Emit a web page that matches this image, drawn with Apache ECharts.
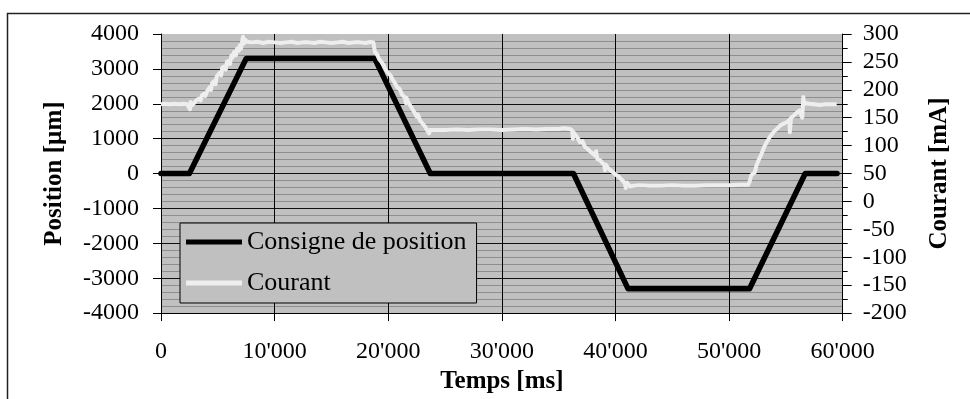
<!DOCTYPE html>
<html>
<head>
<meta charset="utf-8">
<script src="https://cdn.jsdelivr.net/npm/echarts@6/dist/echarts.min.js"></script>
<style>
  html, body { margin: 0; padding: 0; background: #ffffff; }
  #chart { width: 970px; height: 399px; }
</style>
</head>
<body>
<div id="chart"></div>
<script>
// Position set-point [µm] versus time [ms]
const positionTime = [0, 2500, 7500, 18800, 23700, 36300, 41100, 51800, 56700, 59500];
const positionValues = [0, 0, 3300, 3300, 0, 0, -3300, -3300, 0, 0];

// Measured motor current [mA] versus time [ms]
const currentTime = [
  0, 400, 800, 1200, 1600, 2000, 2300, 2450, 2550, 2600, 2700,
  2900, 3100, 3300, 3430, 3500, 3600, 3800, 3900, 4100, 4310, 4400, 4500, 4700, 4800, 4900, 5050,
  5190, 5300, 5400, 5600, 5700, 5800, 6000, 6070, 6200, 6300, 6450, 6600, 6700, 6850, 6950, 7050,
  7150, 7220, 7300, 7400, 7570,
  8000, 8500, 9000, 9500, 10000, 10500, 11000, 11500, 12000, 12500, 13000, 13500, 14000, 14500,
  15000, 15500, 16000, 16500, 17000, 17500, 18000, 18500, 18690,
  18830, 19000, 19200, 19400, 19600, 19710, 19850, 20000, 20200, 20400, 20590, 20700, 20800, 21000,
  21200, 21470, 21550, 21600, 21800, 22000, 22200, 22350, 22500, 22600, 22800, 23000, 23240, 23400,
  23600, 23680,
  24000, 25000, 26000, 27000, 28000, 29000, 30000, 31000, 32000, 33000, 34000, 35000, 35500, 36000,
  36200, 36250, 36300, 36600, 36880, 37100, 37300, 37500, 37760, 38000, 38200, 38300, 38400, 38640,
  38800, 39000, 39080, 39150, 39300, 39520, 39800, 40000, 40200, 40400, 40600, 40840, 40900, 41000, 41280,
  41600, 42160, 43000, 44000, 45000, 46000, 47000, 48000, 49000, 50000, 51000, 51500, 51690,
  51800, 51950, 52260, 52400, 52600, 52830, 53100, 53360, 53600, 53980, 54200, 54500, 54860, 55100,
  55300, 55350, 55450, 55700, 55900, 56180, 56300, 56440, 56500, 56530, 56620, 56800, 57060, 57500,
  57940, 58500, 59000, 59470
];
const currentValues = [
  174, 175, 174, 175, 174, 175, 174, 172, 165, 178, 172,
  176, 181, 184, 187, 181, 190, 193, 189, 199, 205, 200, 212, 216, 210, 224, 222,
  231, 226, 240, 242, 236, 250, 252, 246, 262, 258, 268, 262, 274, 270, 280, 274,
  288, 295, 283, 290, 286,
  285, 286, 284, 286, 285, 284, 285, 286, 284, 285, 285, 284, 286, 285,
  284, 285, 286, 284, 285, 285, 284, 286, 285,
  268, 264, 255, 250, 244, 238, 240, 230, 226, 218, 212, 214, 204, 202,
  192, 186, 176, 186, 176, 170, 163, 158, 152, 156, 145, 140, 134, 131,
  122, 128,
  128, 128, 129, 128, 129, 129, 128, 129, 130, 129, 130, 130, 131, 130,
  127, 112, 124, 116, 106, 108, 98, 95, 90, 86, 82, 90, 76, 74,
  70, 66, 56, 66, 61, 57, 52, 48, 46, 42, 38, 32, 24, 34, 27,
  28, 29, 28, 28, 29, 28, 28, 29, 29, 29, 30, 30, 30,
  35, 47, 52, 64, 74, 84, 98, 108, 116, 126, 130, 136, 140, 142,
  146, 124, 150, 154, 158, 163, 166, 150, 172, 187, 174, 176, 175, 174,
  173, 174, 174, 174
];

// Axis tick labels
const timeTickLabels = ["0", "10'000", "20'000", "30'000", "40'000", "50'000", "60'000"];

const seriesNames = ['Consigne de position', 'Courant'];

const pair = (xs, ys) => xs.map((x, i) => [x, ys[i]]);

const serif = '"Liberation Serif", "Times New Roman", serif';
const labelStyle = { color: '#000', fontFamily: serif, fontSize: 24 };
const nameStyle = { color: '#000', fontFamily: serif, fontSize: 25, fontWeight: 'bold' };

const chart = echarts.init(document.getElementById('chart'), null, { renderer: 'canvas' });

chart.setOption({
  animation: false,
  backgroundColor: '#ffffff',
  graphic: [
    {
      type: 'rect',
      left: 5, top: 11, z: -10,
      shape: { x: 0, y: 0, width: 1200, height: 1200 },
      style: { fill: 'none', stroke: '#222', lineWidth: 1.5 },
      silent: true
    }
  ],
  grid: {
    left: 161, right: 127.3, top: 34, bottom: 80.7,
    show: true, backgroundColor: '#c0c0c0', borderWidth: 0
  },
  legend: {
    orient: 'vertical',
    left: 180, top: 223,
    data: seriesNames,
    icon: 'rect',
    backgroundColor: '#c0c0c0',
    borderColor: '#000', borderWidth: 1, borderRadius: 0,
    padding: [4, 10, 5, 6],
    itemWidth: 56, itemHeight: 5, itemGap: 11,
    textStyle: { color: '#000', fontFamily: serif, fontSize: 26, lineHeight: 30 }
  },
  xAxis: {
    type: 'value',
    min: 0, max: 60000, interval: 10000,
    name: 'Temps [ms]', nameLocation: 'middle', nameGap: 53,
    nameTextStyle: nameStyle,
    axisLine: { show: true, onZero: false, lineStyle: { color: '#000', width: 1 } },
    axisTick: { show: true, inside: false, length: 8, lineStyle: { color: '#000' } },
    axisLabel: Object.assign({ margin: 27, formatter: v => timeTickLabels[Math.round(v / 10000)] }, labelStyle),
    splitLine: { show: true, showMinLine: false, showMaxLine: false, lineStyle: { color: '#000', width: 1 } }
  },
  yAxis: [
    {
      type: 'value',
      min: -4000, max: 4000, interval: 1000,
      name: 'Position [µm]', nameLocation: 'middle', nameRotate: 90, nameGap: 94,
      nameTextStyle: nameStyle,
      axisLine: { show: true, lineStyle: { color: '#000', width: 1 } },
      axisTick: { show: true, length: 8, lineStyle: { color: '#000' } },
      axisLabel: Object.assign({ margin: 22, formatter: v => String(v) }, labelStyle),
      splitLine: { show: true, showMinLine: false, showMaxLine: false, lineStyle: { color: '#111', width: 1 } },
      minorTick: { show: false, splitNumber: 5 },
      minorSplitLine: { show: true, lineStyle: { color: '#8e8e8e', width: 1 } }
    },
    {
      type: 'value',
      position: 'right',
      min: -200, max: 300, interval: 50,
      name: 'Courant [mA]', nameLocation: 'middle', nameRotate: 90, nameGap: 84,
      nameTextStyle: nameStyle,
      axisLine: { show: true, lineStyle: { color: '#000', width: 1 } },
      axisTick: { show: true, length: 9, lineStyle: { color: '#000' } },
      minorTick: { show: true, splitNumber: 2, length: 5, lineStyle: { color: '#000' } },
      axisLabel: Object.assign({ margin: 20, formatter: v => String(v) }, labelStyle),
      splitLine: { show: false }
    }
  ],
  series: [
    {
      name: seriesNames[0],
      type: 'line',
      yAxisIndex: 0,
      data: pair(positionTime, positionValues),
      symbol: 'none',
      z: 3,
      lineStyle: { color: '#000', width: 5.5, cap: 'round', join: 'round' },
      itemStyle: { color: '#000' }
    },
    {
      name: seriesNames[1],
      type: 'line',
      yAxisIndex: 1,
      data: pair(currentTime, currentValues),
      symbol: 'none',
      z: 4,
      lineStyle: { color: '#eeeeee', width: 4, join: 'round' },
      itemStyle: { color: '#eeeeee' }
    }
  ]
});
</script>
</body>
</html>
